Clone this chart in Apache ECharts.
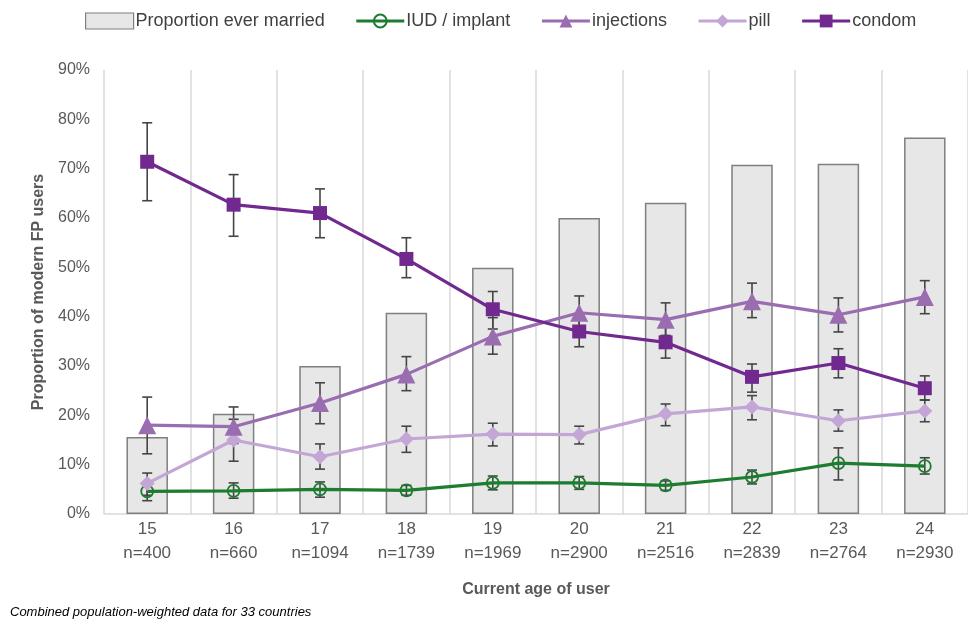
<!DOCTYPE html>
<html><head><meta charset="utf-8">
<script src="https://cdn.jsdelivr.net/npm/echarts@6/dist/echarts.min.js"></script>
<style>html,body{margin:0;padding:0;background:#fff}#c{width:968px;height:624px}</style>
</head><body><div id="c"></div>
<script>
const ages = ['15','16','17','18','19','20','21','22','23','24'];
const sampleN = [400,660,1094,1739,1969,2900,2516,2839,2764,2930];
const everMarried = [15.6,20.3,30.0,40.8,49.9,60.0,63.1,70.8,71.0,76.3];
const iud = [4.6,4.7,5.0,4.8,6.3,6.3,5.8,7.5,10.3,9.7];
const iudLow = [2.7,3.2,3.4,3.8,4.9,5.0,4.8,6.1,6.9,8.1];
const iudHigh = [6.5,6.3,6.5,5.8,7.7,7.6,6.7,8.9,13.4,11.4];
const injections = [18.0,17.7,22.5,28.3,36.0,40.8,39.4,43.1,40.4,44.0];
const injLow = [12.2,14.3,18.3,25.0,32.4,37.5,36.2,39.8,36.9,40.6];
const injHigh = [23.7,21.7,26.6,31.9,39.8,44.2,42.8,46.8,43.8,47.3];
const pill = [6.2,15.0,11.6,15.2,16.2,16.1,20.3,21.7,18.9,20.9];
const pillLow = [3.8,10.7,9.1,12.5,13.8,14.2,17.9,19.1,16.8,18.7];
const pillHigh = [8.3,19.2,14.2,17.8,18.4,17.8,22.3,24.0,21.1,23.1];
const condom = [71.4,62.7,61.0,51.7,41.5,37.0,34.8,27.8,30.6,25.5];
const condomLow = [63.5,56.3,56.0,47.9,37.5,33.9,31.6,24.7,27.6,23.1];
const condomHigh = [79.3,68.8,65.9,56.0,45.1,40.3,38.0,30.4,33.5,28.0];
const yTicks = [0,10,20,30,40,50,60,70,80,90];

const C_IUD = '#1d7c30', C_INJ = '#9a6cb0', C_PILL = '#c4a6d6', C_CON = '#71288f';

function errData(lo, hi){ return lo.map((v,i)=>[i, v, hi[i]]); }
function errRender(params, api){
  const i = api.value(0);
  const lo = api.coord([i, api.value(1)]);
  const hi = api.coord([i, api.value(2)]);
  const w = 5;
  const st = {stroke:'#454545', lineWidth:1.6};
  return {type:'group', children:[
    {type:'line', shape:{x1:lo[0],y1:lo[1],x2:hi[0],y2:hi[1]}, style:st},
    {type:'line', shape:{x1:lo[0]-w,y1:lo[1],x2:lo[0]+w,y2:lo[1]}, style:st},
    {type:'line', shape:{x1:hi[0]-w,y1:hi[1],x2:hi[0]+w,y2:hi[1]}, style:st}
  ]};
}
function errSeries(name, lo, hi){
  return {name:name+'_err', type:'custom', renderItem:errRender, data:errData(lo,hi),
    encode:{x:0,y:[1,2]}, z:3, silent:true};
}
function lineSeries(name, data, color, symbol, size, extra){
  return Object.assign({name, type:'line', data, symbol, symbolSize:size, showSymbol:true,
    lineStyle:{color, width:3.2}, itemStyle:{color}, z:5, animation:false}, extra||{});
}

const chart = echarts.init(document.getElementById('c'));
chart.setOption({
  animation:false,
  textStyle:{fontFamily:'Liberation Sans, Arial, sans-serif'},
  legend:{
    top:7, left:80, itemGap:30, itemWidth:48, itemHeight:16,
    textStyle:{fontSize:18, color:'#404040', padding:[0,0,0,-3]},
    lineStyle:{width:3.2},
    data:[
      {name:'Proportion ever married', icon:'rect', itemStyle:{color:'#e7e7e7', borderColor:'#7f7f7f', borderWidth:1.2}},
      'IUD / implant','injections','pill','condom'
    ]
  },
  grid:{left:104, right:0, top:70, bottom:110},
  xAxis:{
    type:'category', data:ages,
    axisLine:{lineStyle:{color:'#d9d9d9', width:1.5}},
    axisTick:{show:false},
    splitLine:{show:true, lineStyle:{color:'#d9d9d9', width:1.5}},
    axisLabel:{color:'#595959', fontSize:17, lineHeight:24, margin:3,
      formatter:(v,i)=> v + '\nn=' + sampleN[i]},
    name:'Current age of user', nameLocation:'middle', nameGap:68,
    nameTextStyle:{fontSize:16, fontWeight:'bold', color:'#595959'}
  },
  yAxis:{
    type:'value', min:0, max:90, interval:10,
    axisLine:{show:false}, axisTick:{show:false}, splitLine:{show:false},
    axisLabel:{color:'#595959', fontSize:16, margin:14, formatter:v=>v+'%'},
    name:'Proportion of modern FP users', nameLocation:'middle', nameGap:57,
    nameTextStyle:{fontSize:16, fontWeight:'bold', color:'#595959'}
  },
  series:[
    {name:'Proportion ever married', type:'bar', data:everMarried, barWidth:'48%',
      itemStyle:{color:'#e7e7e7', borderColor:'#7f7f7f', borderWidth:1.5}, z:1},
    errSeries('IUD / implant', iudLow, iudHigh),
    errSeries('injections', injLow, injHigh),
    errSeries('pill', pillLow, pillHigh),
    errSeries('condom', condomLow, condomHigh),
    lineSeries('IUD / implant', iud, C_IUD, 'circle', 12,
      {itemStyle:{color:'rgba(255,255,255,0)', borderColor:C_IUD, borderWidth:1.8}}),
    lineSeries('pill', pill, C_PILL, 'diamond', 15),
    lineSeries('injections', injections, C_INJ, 'triangle', 18),
    lineSeries('condom', condom, C_CON, 'rect', 14)
  ],
  graphic:[{type:'text', left:10, top:606,
    style:{text:'Combined population-weighted data for 33 countries', fontSize:13, fontStyle:'italic',
      fill:'#000', fontFamily:'Liberation Sans, Arial, sans-serif'}}]
});
</script></body></html>
